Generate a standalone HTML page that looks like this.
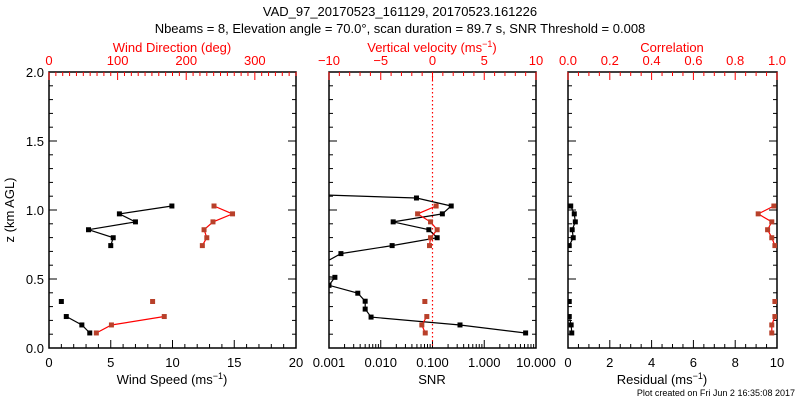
<!DOCTYPE html>
<html><head><meta charset="utf-8"><style>
html,body{margin:0;padding:0;background:#fff}
svg{display:block;font-family:"Liberation Sans",sans-serif}
</style></head><body>
<svg id="c" width="800" height="400" xmlns="http://www.w3.org/2000/svg"></svg>
<script>
// Heights (km AGL)
const zLow = [0.109, 0.167, 0.228, 0.337];
const zUp = [0.742, 0.799, 0.857, 0.914, 0.972, 1.029];
// Panel 1
const speedLow = [3.3, 2.66, 1.4, 1.0];
const speedUp = [5.0, 5.2, 3.2, 7.0, 5.7, 9.95];
const dirLow = [69, 91, 168, 151];
const dirUp = [223.5, 230, 226, 239, 267.5, 240.5];
// Panel 2
const snrZ = [0.109,0.167,0.224,0.282,0.339,0.397,0.454,0.512,0.569,0.627,0.684,0.742,0.799,0.857,0.914,0.972,1.029,1.087,1.144];
const snrVals = [6.3,0.34,0.0065,0.005,0.005,0.0036,0.001,0.0013,0.00001,0.0009,0.0017,0.0166,0.123,0.085,0.0174,0.155,0.23,0.049,0.000001];
const wLow = [-0.70, -1.03, -0.55, -0.74];
const wUp = [-0.29, -0.19, 0.45, -0.19, -1.44, 0.35];
// Panel 3
const resLow = [0.18, 0.15, 0.06, 0.06];
const resUp = [0.06, 0.25, 0.2, 0.35, 0.3, 0.13];
const corLow = [0.975, 0.975, 0.99, 0.99];
const corUp = [0.99, 0.975, 0.955, 0.975, 0.91, 0.985];
const snrThreshold = 0.1;

const svg = document.getElementById('c');
const NS = 'http://www.w3.org/2000/svg';
const T = 72, B = 348;
const yS = z => B - (z / 2) * (B - T);
const RED = '#ff0000', MRED = '#b8402a';
function el(tag, attrs, parent) {
  const e = document.createElementNS(NS, tag);
  for (const k in attrs) e.setAttribute(k, attrs[k]);
  (parent || svg).appendChild(e);
  return e;
}
function txt(x, y, s, opts) {
  const e = el('text', Object.assign({x: x, y: y, 'font-size': 13, fill: '#000', 'text-anchor': 'middle'}, opts || {}));
  e.textContent = s;
  return e;
}
// titles
let t1 = txt(400, 16, 'VAD_97_20170523_161129, 20170523.161226');


let t2 = txt(400, 33, 'Nbeams = 8, Elevation angle = 70.0°, scan duration = 89.7 s, SNR Threshold = 0.008');


let ft = txt(795, 396, 'Plot created on Fri Jun  2 16:35:08 2017', {'font-size': 9, 'text-anchor': 'end'});



function panel(name, L, R) {
  const g = el('g', {});
  
  
  const r = el('rect', {x: L, y: T, width: R - L, height: B - T, fill: 'none', stroke: '#000', 'stroke-width': 1.5}, g);
  
  
  // y ticks left and right
  for (let i = 0; i <= 20; i++) {
    const y = yS(i / 10), len = i % 5 === 0 ? 8 : 4;
    el('line', {x1: L, x2: L + len, y1: y, y2: y, stroke: '#000'}, g);
    el('line', {x1: R, x2: R - len, y1: y, y2: y, stroke: '#000'}, g);
  }
  return g;
}
function linAxis(g, L, R, min, max, major, minor, top, color, fmt) {
  const sx = v => L + (v - min) / (max - min) * (R - L);
  const n = Math.round((max - min) / minor);
  for (let i = 0; i <= n; i++) {
    const v = min + i * minor;
    const isMaj = Math.abs(v / major - Math.round(v / major)) < 1e-6;
    const len = isMaj ? 8 : 4, x = sx(v);
    if (top) el('line', {x1: x, x2: x, y1: T, y2: T + len, stroke: color}, g);
    else el('line', {x1: x, x2: x, y1: B, y2: B - len, stroke: color}, g);
    if (isMaj && fmt) {
      const lb = txt(x, top ? T - 7 : B + 19, fmt(v), {fill: color});
      
      
    }
  }
  return sx;
}
function series(g, xs, zs, vals, lineColor, markColor, connect, name, clip) {
  const pts = vals.map((v, i) => [xs(v), yS(zs[i])]);
  const gg = el('g', clip ? {'clip-path': clip} : {}, g);
  
  
  connect.forEach(seg => {
    const d = seg.map((k, j) => (j ? 'L' : 'M') + pts[k][0].toFixed(1) + ' ' + pts[k][1].toFixed(1)).join(' ');
    const p = el('path', {d: d, fill: 'none', stroke: lineColor, 'stroke-width': 1.2}, gg);
    
    
  });
  pts.forEach(p => {
    const m = el('rect', {x: p[0] - 2.5, y: p[1] - 2.5, width: 5, height: 5, fill: markColor}, gg);
    
    
  });
}
// clip paths
const defs = el('defs', {});
[[1,49,296],[2,329,536],[3,568,777]].forEach(a => {
  const cp = el('clipPath', {id: 'cp' + a[0]}, defs);
  el('rect', {x: a[1], y: T, width: a[2] - a[1], height: B - T}, cp);
});

// Panel 1
const g1 = panel('wind-panel', 49, 296);
const sxSpeed = linAxis(g1, 49, 296, 0, 20, 5, 1, false, '#000', v => String(v));
const sxDir = linAxis(g1, 49, 296, 0, 360, 100, 10, true, RED, v => v <= 300 ? String(v) : '');
series(g1, sxSpeed, zLow, speedLow, '#000', '#000', [[0,1,2]], 'wind-speed-low', 'url(#cp1)');
series(g1, sxSpeed, zUp, speedUp, '#000', '#000', [[0,1,2,3,4,5]], 'wind-speed-up', 'url(#cp1)');
series(g1, sxDir, zLow, dirLow, RED, MRED, [[0,1,2]], 'wind-dir-low', 'url(#cp1)');
series(g1, sxDir, zUp, dirUp, RED, MRED, [[0,1,2,3,4,5]], 'wind-dir-up', 'url(#cp1)');
['0.0','0.5','1.0','1.5','2.0'].forEach((s, i) => {
  const lb = txt(44, yS(i * 0.5) + 5, s, {'text-anchor': 'end'});
  
  
});
let yt = txt(0, 0, 'z (km AGL)', {transform: 'translate(14,210) rotate(-90)'});


let xt1 = txt(172, 384, 'Wind Speed (ms', {});


const s1 = el('tspan', {dy: -5, 'font-size': 9}, xt1); s1.textContent = '−1';
const s1b = el('tspan', {dy: 5}, xt1); s1b.textContent = ')';
let tt1 = txt(172, 52, 'Wind Direction (deg)', {fill: RED});



// Panel 2
const g2 = panel('snr-panel', 329, 536);
const sxSnr = v => 329 + (Math.log10(v) + 3) / 4 * (536 - 329);
const snrLabels = ['0.001', '0.010', '0.100', '1.000', '10.000'];
for (let d = -3; d <= 1; d++) {
  for (let k = 1; k <= 9; k++) {
    if (d === 1 && k > 1) break;
    const x = sxSnr(k * Math.pow(10, d)), len = k === 1 ? 8 : 4;
    el('line', {x1: x, x2: x, y1: B, y2: B - len, stroke: '#000'}, g2);
  }
  const lb = txt(sxSnr(Math.pow(10, d)), B + 19, snrLabels[d + 3]);
  
  
}
const sxW = linAxis(g2, 329, 536, -10, 10, 5, 1, true, RED, v => v < 0 ? '−' + (-v) : String(v));
const thr = el('line', {x1: sxSnr(snrThreshold), x2: sxSnr(snrThreshold), y1: T, y2: B, stroke: RED, 'stroke-dasharray': '1.5,2.5', 'stroke-width': 1.2}, g2);


series(g2, sxSnr, snrZ, snrVals, '#000', '#000', [snrVals.map((v, i) => i)], 'snr-series', 'url(#cp2)');
series(g2, sxW, zLow, wLow, RED, MRED, [[0,1,2]], 'vertical-velocity-low', 'url(#cp2)');
series(g2, sxW, zUp, wUp, RED, MRED, [[0,1,2,3,4,5]], 'vertical-velocity-up', 'url(#cp2)');
let xt2 = txt(432, 384, 'SNR');


let tt2 = txt(432, 52, 'Vertical velocity (ms', {fill: RED});


const s2 = el('tspan', {dy: -5, 'font-size': 9}, tt2); s2.textContent = '−1';
const s2b = el('tspan', {dy: 5}, tt2); s2b.textContent = ')';

// Panel 3
const g3 = panel('residual-panel', 568, 777);
const sxRes = linAxis(g3, 568, 777, 0, 10, 2, 0.5, false, '#000', v => String(v));
const sxCor = linAxis(g3, 568, 777, 0, 1, 0.2, 0.05, true, RED, v => v.toFixed(1));
series(g3, sxRes, zLow, resLow, '#000', '#000', [[0,1,2]], 'residual-low', 'url(#cp3)');
series(g3, sxRes, zUp, resUp, '#000', '#000', [[0,1,2,3,4,5]], 'residual-up', 'url(#cp3)');
series(g3, sxCor, zLow, corLow, RED, MRED, [[0,1,2]], 'correlation-low', 'url(#cp3)');
series(g3, sxCor, zUp, corUp, RED, MRED, [[0,1,2,3,4,5]], 'correlation-up', 'url(#cp3)');
let xt3 = txt(662, 384, 'Residual (ms');


const s3 = el('tspan', {dy: -5, 'font-size': 9}, xt3); s3.textContent = '−1';
const s3b = el('tspan', {dy: 5}, xt3); s3b.textContent = ')';
let tt3 = txt(672, 52, 'Correlation', {fill: RED});


</script>
</body></html>
